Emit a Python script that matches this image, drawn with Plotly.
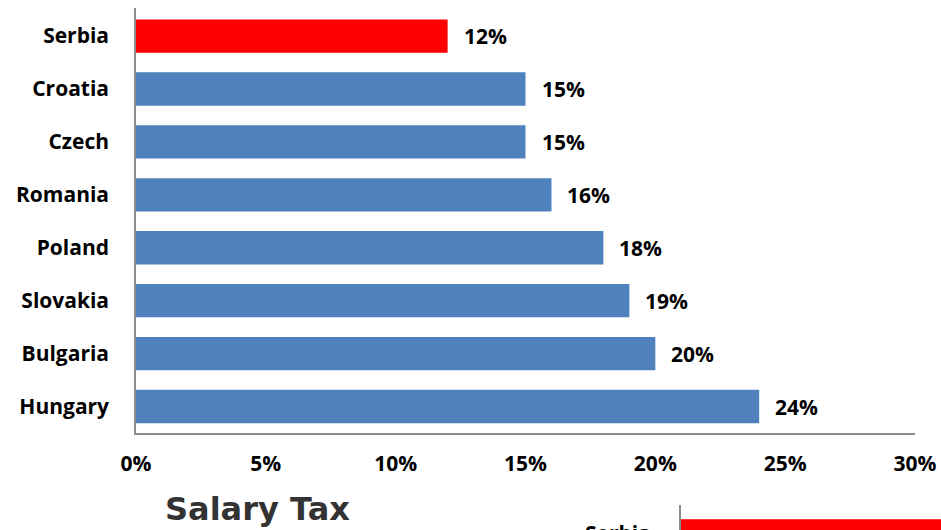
import plotly.graph_objects as go

# Flat tax rates by country (%)
countries = ["Serbia", "Croatia", "Czech", "Romania", "Poland", "Slovakia", "Bulgaria", "Hungary"]
rates = [12, 15, 15, 16, 18, 19, 20, 24]
bar_colors = ["#FF0000"] + ["#4F81BD"] * 7
x_ticks = [0, 5, 10, 15, 20, 25, 30]
x_tick_labels = ["0%", "5%", "10%", "15%", "20%", "25%", "30%"]

# Start of the following "Salary Tax" panel
salary_countries = ["Serbia"]
salary_rates = [12]

W, H = 941, 530
FONT = "'Open Sans', 'Noto Sans', sans-serif"
label_font = dict(family=FONT, size=21, color="#000000")

fig = go.Figure()

fig.add_trace(go.Bar(
    y=countries, x=rates, orientation="h",
    marker=dict(color=bar_colors, line=dict(width=0)),
    width=0.63, hoverinfo="skip", xaxis="x", yaxis="y",
))

fig.add_trace(go.Bar(
    y=salary_countries, x=salary_rates, orientation="h",
    marker=dict(color="#FF0000", line=dict(width=0)),
    width=0.63, hoverinfo="skip", xaxis="x2", yaxis="y2",
))

# value labels next to each bar
for c, v in zip(countries, rates):
    fig.add_annotation(
        x=v, y=c, xref="x", yref="y", text=f"<b>{v}%</b>",
        showarrow=False, xanchor="left", xshift=14,
        font=label_font,
    )

# category label of the lower panel (its row sits just past the page edge)
for c in salary_countries:
    fig.add_annotation(
        x=0, y=-3 / H, xref="x2", yref="paper", text=f"<b>{c}</b>",
        showarrow=False, xanchor="right", yanchor="middle", xshift=-28,
        font=label_font,
    )

fig.add_annotation(
    x=163 / W, y=1 - 509 / H, xref="paper", yref="paper",
    text="<b>Salary Tax</b>", showarrow=False, xanchor="left", yanchor="middle",
    font=dict(family="'DejaVu Sans', sans-serif", size=32, color="#333333"),
)

fig.update_layout(
    width=W, height=H,
    margin=dict(l=0, r=0, t=0, b=0, autoexpand=False),
    paper_bgcolor="white", plot_bgcolor="white",
    showlegend=False,
    xaxis=dict(
        domain=[136 / W, 915 / W], range=[0, 30], automargin=False,
        tickvals=x_ticks, ticktext=[f"<b>{t}</b>" for t in x_tick_labels],
        showgrid=False, zeroline=False,
        showline=True, linecolor="#8C8C8C", linewidth=1.5,
        ticks="", ticklabelstandoff=11,
        tickfont=label_font,
    ),
    yaxis=dict(
        domain=[1 - 433 / H, 1 - 8 / H], automargin=False,
        categoryorder="array", categoryarray=countries,
        range=[7.5, -0.53],
        ticktext=[f"<b>{c}</b>" for c in countries], tickvals=countries,
        showgrid=False, zeroline=False,
        showline=True, linecolor="#8C8C8C", linewidth=1.5,
        ticks="", ticklabelstandoff=21,
        tickfont=label_font,
    ),
    xaxis2=dict(
        domain=[681 / W, 1], range=[0, 10], anchor="y2", automargin=False,
        showgrid=False, zeroline=False, showticklabels=False,
        showline=False, ticks="",
    ),
    yaxis2=dict(
        domain=[0, 25 / H], range=[0.113, 0.585], anchor="x2", automargin=False,
        type="category", categoryarray=salary_countries,
        showgrid=False, zeroline=False, showticklabels=False,
        showline=True, linecolor="#8C8C8C", linewidth=1.5, ticks="",
    ),
)

fig.write_html("out.html")
